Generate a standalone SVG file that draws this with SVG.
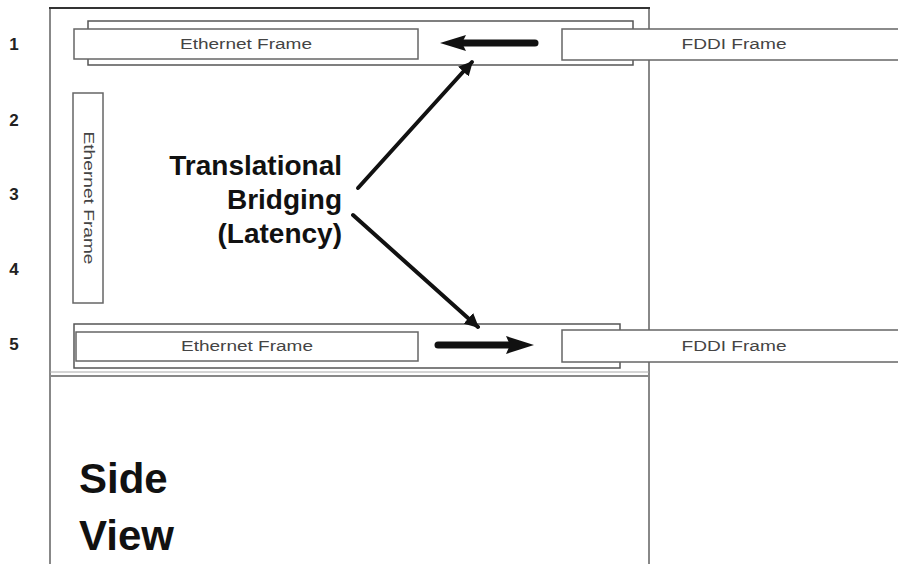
<svg xmlns="http://www.w3.org/2000/svg" width="898" height="564" viewBox="0 0 898 564">
<style>
.frame{fill:#fff;stroke:#666;stroke-width:1.5}
.back{fill:#fff;stroke:#555;stroke-width:1.5}
.ft{font-family:"Liberation Sans",Arial,sans-serif;font-size:14px;fill:#444;text-anchor:middle}
.num{font-family:"Liberation Sans",Arial,sans-serif;font-size:17px;font-weight:bold;fill:#222;text-anchor:middle}
.big{font-family:"Liberation Sans",Arial,sans-serif;font-weight:bold;fill:#111}
.frameline{stroke:#888;stroke-width:2;fill:none}
.conn{stroke:#111;stroke-width:4;fill:none;stroke-linecap:round}
.thick{stroke:#111;stroke-width:7;fill:none;stroke-linecap:round}
.head{fill:#111}
</style>
<defs>
<marker id="ah" viewBox="0 0 10 10" refX="9" refY="5" markerWidth="3.6" markerHeight="3.6" orient="auto" markerUnits="strokeWidth">
<path d="M0,0 L10,5 L0,10 z" fill="#111"/>
</marker>
</defs>
<rect width="898" height="564" fill="#fff"/>
<g id="outline">
<line x1="50" y1="8" x2="50" y2="564" class="frameline"/>
<line x1="649" y1="8" x2="649" y2="564" class="frameline"/>
<line x1="49" y1="8" x2="650" y2="8" stroke="#333" stroke-width="2"/>
<line x1="50" y1="372" x2="649" y2="372" stroke="#aaa" stroke-width="1.2"/>
<line x1="50" y1="376" x2="649" y2="376" stroke="#888" stroke-width="2"/>
</g>
<g id="row-numbers">
<text class="num" x="14" y="50">1</text>
<text class="num" x="14" y="126">2</text>
<text class="num" x="14" y="200">3</text>
<text class="num" x="14" y="275">4</text>
<text class="num" x="14" y="350">5</text>
</g>
<g id="row1-back"><rect class="back" x="88" y="21" width="545" height="44"/></g>
<g id="row1-ethernet"><rect class="frame" x="74" y="29" width="344" height="30"/><text class="ft" x="246" y="49" textLength="132" lengthAdjust="spacingAndGlyphs">Ethernet Frame</text></g>
<g id="row1-fddi"><rect class="frame" x="562" y="29" width="345" height="31"/><text class="ft" x="734" y="49" textLength="105" lengthAdjust="spacingAndGlyphs">FDDI Frame</text></g>
<g id="vertical-ethernet"><rect class="frame" x="73" y="93" width="30" height="210"/><text class="ft" x="0" y="0" transform="translate(84,198) rotate(90)" textLength="133" lengthAdjust="spacingAndGlyphs">Ethernet Frame</text></g>
<g id="row5-back"><rect class="back" x="74" y="324" width="546" height="44"/></g>
<g id="row5-ethernet"><rect class="frame" x="76" y="332" width="342" height="29"/><text class="ft" x="247" y="351" textLength="132" lengthAdjust="spacingAndGlyphs">Ethernet Frame</text></g>
<g id="row5-fddi"><rect class="frame" x="562" y="330" width="345" height="32"/><text class="ft" x="734" y="351" textLength="105" lengthAdjust="spacingAndGlyphs">FDDI Frame</text></g>
<g id="label">
<text class="big" font-size="28" text-anchor="end" x="342" y="175">Translational</text>
<text class="big" font-size="28" text-anchor="end" x="342" y="209">Bridging</text>
<text class="big" font-size="28" text-anchor="end" x="342" y="243">(Latency)</text>
</g>
<g id="side-view">
<text class="big" font-size="42" x="79" y="493">Side</text>
<text class="big" font-size="42" x="79" y="550">View</text>
</g>
<g id="connectors">
<line class="thick" x1="535" y1="43" x2="462" y2="43"/>
<path class="head" d="M440,43 L466,35 L462,43 L466,51 z"/>
<line class="thick" x1="438" y1="345" x2="510" y2="345"/>
<path class="head" d="M534,345 L506,336 L510,345 L506,354 z"/>
<line class="conn" x1="358" y1="188" x2="472" y2="62" marker-end="url(#ah)"/>
<line class="conn" x1="353" y1="215" x2="478" y2="327" marker-end="url(#ah)"/>
</g>
</svg>
